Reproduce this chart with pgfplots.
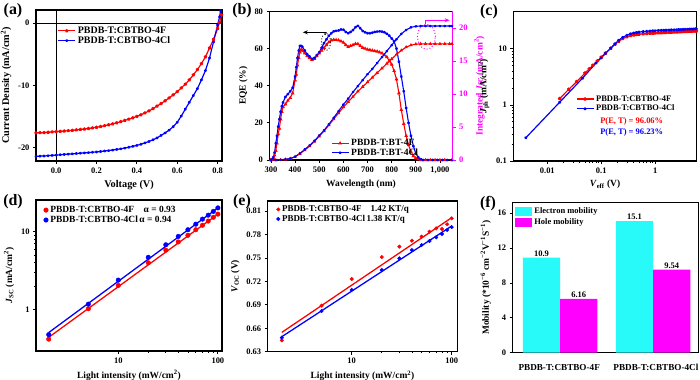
\documentclass[border=0pt]{standalone}
\usepackage{fontspec}
\setmainfont{Liberation Serif}
\usepackage{pgfplots}
\pgfplotsset{compat=1.18}
\usetikzlibrary{arrows.meta}
\definecolor{mred}{RGB}{255,0,0}
\definecolor{mblue}{RGB}{0,0,255}
\definecolor{mmag}{RGB}{255,0,255}
\definecolor{mcyan}{RGB}{40,250,250}
\newcommand{\tf}{\bfseries\fontsize{8.5}{9}\selectfont}
\newcommand{\lf}{\bfseries\fontsize{9.5}{10}\selectfont}
\newcommand{\pf}{\bfseries\fontsize{16}{16}\selectfont}
\pgfplotsset{
 myaxis/.style={scale only axis, anchor=south west,
   axis line style={line width=1.1pt},
   tick style={line width=0.8pt, black},
   tick align=outside, tick pos=left,
   major tick length=3bp, minor tick length=1.8bp,
   tick label style={font=\tf}, label style={font=\lf},
   legend style={draw=none, fill=none, font=\tf, inner sep=1pt, row sep=-1.5pt},
   legend cell align=left,
   /pgf/number format/assume math mode=true},
}
\begin{document}
\begin{tikzpicture}
\useasboundingbox (0,0) rectangle (700bp,380bp);
% ---------------- (a)
\begin{axis}[myaxis, at={(36bp,219bp)}, width=186bp, height=151bp,
  xmin=-0.1, xmax=0.822, ymin=-22.1, ymax=2.1,
  xtick={0,0.2,0.4,0.6,0.8}, xticklabels={0.0,0.2,0.4,0.6,0.8},
  ytick={-20,-10,0}, yticklabels={-20,-10,0},
  xlabel={Voltage (V)}, ylabel={Current Density (mA/cm\textsuperscript{2})},
  label style={font=\bfseries\fontsize{10.3}{11}\selectfont},
  legend style={at={(0.11,0.91)}, anchor=north west, font=\bfseries\fontsize{10}{11}\selectfont, row sep=-2.5pt}]
\draw[black, line width=1.1pt] (axis cs:0,-22.1) -- (axis cs:0,2.1);
\draw[black, line width=1.1pt] (axis cs:-0.1,0) -- (axis cs:0.822,0);
\addplot[mred, line width=1.2pt, mark=pentagon*, mark size=1.1] coordinates {
(-0.10,-17.6) (-0.08,-17.57) (-0.06,-17.55) (-0.04,-17.5) (-0.02,-17.45) (0.00,-17.4) (0.02,-17.35) (0.04,-17.3) (0.06,-17.25) (0.08,-17.2) (0.10,-17.12) (0.12,-17.05) (0.14,-16.98) (0.16,-16.9) (0.18,-16.8) (0.20,-16.7) (0.22,-16.58) (0.24,-16.45) (0.26,-16.3) (0.28,-16.15) (0.30,-15.98) (0.32,-15.8) (0.34,-15.6) (0.36,-15.4) (0.38,-15.18) (0.40,-14.95) (0.42,-14.7) (0.44,-14.4) (0.46,-14.08) (0.48,-13.7) (0.50,-13.3) (0.52,-12.9) (0.54,-12.45) (0.56,-12.0) (0.58,-11.5) (0.60,-11.0) (0.62,-10.4) (0.64,-9.8) (0.66,-9.1) (0.68,-8.3) (0.70,-7.45) (0.72,-6.5) (0.74,-5.4) (0.76,-4.0) (0.78,-2.6) (0.80,-0.9) (0.81,0.1) (0.82,1.3)};
\addlegendentry{PBDB-T:CBTBO-4F}
\addplot[mblue, line width=1.2pt, mark=star, mark size=1.3] coordinates {
(-0.10,-21.35) (-0.08,-21.32) (-0.06,-21.3) (-0.04,-21.25) (-0.02,-21.2) (0.00,-21.15) (0.02,-21.1) (0.04,-21.05) (0.06,-21.0) (0.08,-20.95) (0.10,-20.9) (0.12,-20.85) (0.14,-20.8) (0.16,-20.75) (0.18,-20.7) (0.20,-20.65) (0.22,-20.58) (0.24,-20.5) (0.26,-20.43) (0.28,-20.35) (0.30,-20.25) (0.32,-20.15) (0.34,-20.03) (0.36,-19.9) (0.38,-19.75) (0.40,-19.6) (0.42,-19.42) (0.44,-19.2) (0.46,-18.97) (0.48,-18.7) (0.50,-18.4) (0.52,-18.0) (0.54,-17.6) (0.56,-17.15) (0.58,-16.6) (0.60,-15.9) (0.62,-14.9) (0.64,-13.8) (0.66,-12.7) (0.68,-11.6) (0.70,-10.5) (0.72,-9.1) (0.74,-7.6) (0.76,-5.6) (0.78,-3.0) (0.80,-0.3) (0.81,1.0) (0.815,2.0)};
\addlegendentry{PBDB-T:CBTBO-4Cl}
\end{axis}
% ---------------- (b)
\begin{axis}[myaxis, at={(269.5bp,220bp)}, width=183bp, height=148.5bp,
  xmin=294, xmax=1052, ymin=0, ymax=80,
  xtick={300,400,...,1000}, ytick={0,20,40,60,80},
  xlabel={Wavelength (nm)}, ylabel={EQE (\%)},
  legend style={at={(0.33,0.16)}, anchor=north west, font=\bfseries\fontsize{9.6}{10}\selectfont, row sep=-2.5pt}]
\addplot[mred, line width=1.1pt, mark=triangle*, mark size=1.1] coordinates {
(300,0) (305,0.3) (310,1) (315,2.5) (320,5) (325,9) (330,14) (335,17) (340,22) (345,26) (350,28.5) (360,30) (370,32) (380,33.5) (390,36) (400,43) (405,46) (410,51) (415,55) (420,58) (425,59.5) (430,59) (440,57.5) (450,56) (460,55) (470,54) (480,54.5) (490,56) (500,57.5) (510,59) (520,60.5) (530,62) (540,63.5) (550,64.5) (560,64.8) (570,64.7) (580,64.5) (590,64) (600,63.3) (610,62) (620,61) (630,61.5) (640,62) (650,62.6) (660,62.5) (670,61.5) (680,60.5) (690,60) (700,59.5) (710,59.3) (720,59) (730,58.7) (740,58.5) (750,58) (760,57.5) (770,56.5) (780,55.5) (790,53.5) (800,51.5) (810,48) (820,43.5) (830,36) (840,27) (850,19.5) (860,13) (870,8) (880,4.5) (890,2.2) (900,1) (910,0.4) (920,0) (940,0) (960,0) (980,0) (1000,0) (1020,0) (1050,0)};
\addlegendentry{PBDB-T:BT-4F}
\addplot[mblue, line width=1.1pt, mark=star, mark size=1.3] coordinates {
(300,0) (305,0.5) (310,1.5) (315,4) (320,9) (325,13) (330,18) (335,22) (340,26) (345,29) (350,31) (360,34) (370,35.5) (380,37) (390,39) (400,45) (405,50) (410,55) (415,59) (420,61.5) (425,61.5) (430,61) (440,59) (450,57) (460,55.8) (470,54.5) (480,55) (490,56.5) (500,58) (510,60.5) (520,63) (530,65) (540,67) (550,68.3) (560,69.3) (570,69.6) (580,69.8) (590,70.3) (600,70.2) (610,69) (620,68.3) (630,69) (640,70) (650,71.5) (660,72.3) (670,71) (680,69.5) (690,68.8) (700,68.3) (710,68.3) (720,68.6) (730,69) (740,69.2) (750,69.3) (760,69.2) (770,68.8) (780,68) (790,67) (800,65.5) (810,64) (820,60) (830,53) (840,45) (850,37) (860,28) (870,20) (880,13) (890,7.5) (900,3.5) (910,1.5) (920,0.5) (930,0) (950,0) (970,0) (990,0) (1010,0) (1030,0) (1050,0)};
\addlegendentry{PBDB-T:BT-4Cl}
\draw[black, line width=0.9pt, -{Stealth[length=5bp,width=4bp]}] (axis cs:530,68.8) -- (axis cs:432,68.8);
\draw[black, line width=0.7pt] (axis cs:530,68.8) -- (axis cs:524,67.3);
\draw[black, dotted, line width=0.9pt] (axis cs:528,63.6) ellipse [x radius=4.5bp, y radius=8.5bp];
\draw[mmag, line width=0.9pt, -{Stealth[length=5bp,width=4bp]}] (axis cs:942,75.3) -- (axis cs:1040,75.3);
\draw[mmag, line width=0.9pt] (axis cs:942,75.3) -- (axis cs:942,73.4);
\draw[mmag, dotted, line width=1pt] (axis cs:944,66.4) ellipse [x radius=9bp, y radius=12.5bp];
\end{axis}
\begin{axis}[myaxis, at={(269.5bp,220bp)}, width=183bp, height=148.5bp,
  xmin=294, xmax=1052, ymin=0, ymax=22.5,
  axis x line=none, axis y line*=right, ytick pos=right,
  axis line style={mmag, line width=1.4pt},
  ytick={0,5,10,15,20}, ytick style={mmag, line width=0.8pt},
  yticklabel style={mmag, font=\tf},
  ylabel={Integrated \textit{Jsc} (mA/cm\textsuperscript{2})},
  ylabel style={mmag, font=\lf}]
\addplot[mred, line width=1.1pt, mark=triangle*, mark size=1.0] coordinates {
(300,0) (320,0) (340,0.02) (360,0.08) (380,0.2) (400,0.5) (420,0.95) (440,1.5) (460,2.1) (480,2.8) (500,3.6) (520,4.4) (540,5.3) (560,6.2) (580,7.1) (600,8.0) (620,8.8) (640,9.6) (660,10.4) (680,11.1) (700,11.8) (720,12.5) (740,13.2) (760,13.9) (780,14.6) (800,15.3) (820,16.0) (840,16.6) (860,17.1) (880,17.4) (900,17.55) (920,17.6) (940,17.6) (960,17.6) (980,17.6) (1000,17.6) (1020,17.6) (1040,17.6) (1050,17.6)};
\addplot[mblue, line width=1.1pt, mark=star, mark size=1.2] coordinates {
(300,0) (320,0) (340,0.03) (360,0.1) (380,0.22) (400,0.5) (420,1.0) (440,1.6) (460,2.2) (480,2.9) (500,3.7) (520,4.5) (540,5.4) (560,6.4) (580,7.4) (600,8.4) (620,9.3) (640,10.3) (660,11.2) (680,12.1) (700,13.0) (720,13.8) (740,14.7) (760,15.6) (780,16.5) (800,17.4) (820,18.3) (840,19.1) (860,19.7) (880,20.1) (900,20.25) (920,20.3) (940,20.3) (960,20.3) (980,20.3) (1000,20.3) (1020,20.3) (1040,20.3) (1050,20.3)};
\end{axis}
% ---------------- (c)
\begin{axis}[myaxis, at={(513.3bp,219bp)}, width=183.4bp, height=149.3bp,
  xmode=log, ymode=log, xmin=0.00234, xmax=5.9, ymin=0.1, ymax=46,
  xtick={0.01,0.1,1}, xticklabels={0.01,0.1,1},
  ytick={0.1,1,10}, yticklabels={0.1,1,10},
  xlabel={\textit{V}\textsubscript{eff} (V)}, ylabel={\textit{J}\textsubscript{ph} (mA/cm\textsuperscript{2})},
  legend style={at={(0.335,0.46)}, anchor=north west}]
\addplot[mred, line width=1.2pt, mark=pentagon*, mark size=1.2] coordinates {
(0.017,1.3) (0.025,1.9) (0.035,2.6) (0.05,3.7) (0.06,4.4) (0.07,5.1) (0.085,6.1) (0.1,7.1) (0.12,8.4) (0.15,10.2) (0.18,12.0) (0.21,13.6) (0.25,15.2) (0.3,16.4) (0.35,17.2) (0.4,17.7) (0.45,18.0) (0.5,18.2) (0.6,18.5) (0.7,18.7) (0.8,18.9) (0.9,19.0) (1.0,19.1) (1.15,19.3) (1.3,19.4) (1.45,19.5) (1.6,19.6) (1.8,19.7) (2,19.8) (2.25,19.9) (2.5,20.0) (2.75,20.1) (3,20.2) (3.3,20.3) (3.6,20.35) (4,20.45) (4.4,20.55) (4.8,20.65) (5.2,20.7) (5.6,20.8) (5.8,20.8)};
\addlegendentry{PBDB-T:CBTBO-4F}
\addplot[mblue, line width=1.2pt, mark=star, mark size=1.4] coordinates {
(0.004,0.26) (0.017,1.12) (0.045,3.0) (0.08,5.6) (0.1,6.9) (0.12,8.3) (0.15,10.3) (0.18,12.3) (0.21,14.2) (0.25,16.0) (0.3,17.5) (0.35,18.6) (0.4,19.2) (0.45,19.6) (0.5,19.9) (0.6,20.3) (0.7,20.6) (0.8,20.8) (0.9,21.0) (1.0,21.1) (1.15,21.3) (1.3,21.4) (1.45,21.5) (1.6,21.6) (1.8,21.7) (2,21.8) (2.25,21.9) (2.5,22.0) (2.75,22.1) (3,22.2) (3.3,22.3) (3.6,22.35) (4,22.45) (4.4,22.55) (4.8,22.65) (5.2,22.7) (5.6,22.8) (5.8,22.8)};
\addlegendentry{PBDB-T:CBTBO-4Cl}
\node[anchor=west, mred, font=\tf] at (rel axis cs:0.455,0.262) {P(E, T) = 96.06\%};
\node[anchor=west, mblue, font=\tf] at (rel axis cs:0.455,0.188) {P(E, T) = 96.23\%};
\end{axis}
% ---------------- (d)
\begin{axis}[myaxis, at={(36bp,29bp)}, width=186bp, height=151bp,
  xmode=log, ymode=log, xmin=1.49, xmax=110, ymin=0.296, ymax=25.5,
  xtick={10,100}, xticklabels={10,100}, ytick={1,10}, yticklabels={1,10},
  minor xtick={}, minor ytick={},
  xlabel={Light intensity (mW/cm\textsuperscript{2})}, ylabel={\textit{J}\textsubscript{SC} (mA/cm\textsuperscript{2})},
  legend style={at={(0.035,0.98)}, anchor=north west, font=\bfseries\fontsize{9.5}{10}\selectfont, row sep=-2pt}]
\addplot[only marks, mred, mark=*, mark size=2.3] coordinates {
(2,0.42) (5,1.03) (10,2.05) (20,4.0) (30,5.8) (40,7.4) (50,9.0) (60,10.6) (70,12.1) (80,13.7) (90,15.3) (100,16.8)};
\addlegendentry{PBDB-T:CBTBO-4F\quad α = 0.93}
\addplot[only marks, mblue, mark=*, mark size=2.3] coordinates {
(2,0.48) (5,1.18) (10,2.4) (20,4.7) (30,6.8) (40,8.7) (50,10.6) (60,12.5) (70,14.5) (80,16.3) (90,18.2) (100,20.2)};
\addlegendentry{PBDB-T:CBTBO-4Cl\,α = 0.94}
\addplot[mred, line width=1.3pt, forget plot] coordinates {(2,0.443) (100,16.8)};
\addplot[mblue, line width=1.3pt, forget plot] coordinates {(2,0.51) (100,20.2)};
\end{axis}
% ---------------- (e)
\begin{axis}[myaxis, at={(267.7bp,28.3bp)}, width=189.6bp, height=150.7bp,
  xmode=log, xmin=1.445, xmax=113.8, ymin=0.63, ymax=0.8228,
  xtick={10,100}, xticklabels={10,100}, minor xtick={},
  ytick={0.63,0.66,0.69,0.72,0.75,0.78,0.81}, yticklabels={0.63,0.66,0.69,0.72,0.75,0.78,0.81},
  xlabel={Light intensity (mW/cm\textsuperscript{2})}, ylabel={\textit{V}\textsubscript{OC} (V)},
  legend style={at={(0.04,0.99)}, anchor=north west, font=\bfseries\fontsize{9}{10}\selectfont, row sep=-2pt}]
\addplot[only marks, mred, mark=*, mark size=1.8] coordinates {
(2,0.6445) (5,0.6889) (10,0.723) (20,0.751) (30,0.7644) (40,0.772) (50,0.7772) (60,0.7836) (70,0.7878) (80,0.787) (90,0.793) (100,0.8006)};
\addlegendentry{PBDB-T:CBTBO-4F\quad 1.42 KT/q}
\addplot[only marks, mblue, mark=*, mark size=1.8] coordinates {
(2,0.6479) (5,0.682) (10,0.709) (20,0.7345) (30,0.7494) (40,0.760) (50,0.7665) (60,0.7716) (70,0.7763) (80,0.7806) (90,0.7857) (100,0.7895)};
\addlegendentry{PBDB-T:CBTBO-4Cl\,1.38 KT/q}
\addplot[mred, line width=1.3pt, forget plot] coordinates {(2,0.6547) (100,0.8015)};
\addplot[mblue, line width=1.3pt, forget plot] coordinates {(2,0.6492) (100,0.7908)};
\end{axis}
% ---------------- (f)
\begin{axis}[myaxis, at={(512.7bp,27.3bp)}, width=186bp, height=150bp,
  xmin=0, xmax=10, ymin=0, ymax=17.2,
  xtick={2.5,7.7}, xticklabels={PBDB-T:CBTBO-4F,PBDB-T:CBTBO-4Cl},
  xtick style={draw=none}, xticklabel style={font=\bfseries\fontsize{9.2}{10}\selectfont, yshift=-5bp},
  ytick={0,4,8,12,16}, yticklabels={0,4,8,12,16},
  ylabel={Mobility (*10\textsuperscript{−6} cm\textsuperscript{−2}V\textsuperscript{−1}S\textsuperscript{−1})},
  legend style={at={(0.008,0.99)}, anchor=north west, row sep=0pt},
  legend image code/.code={\fill[#1] (0cm,-0.16cm) rectangle (0.6cm,0.16cm);},
  point meta=explicit symbolic,
  nodes near coords, nodes near coords style={font=\tf, black, inner sep=1pt}]
\addplot[ybar, bar width=2, bar shift=0pt, fill=mcyan, draw=none] coordinates {(1.55,10.9) [10.9] (6.55,15.1) [15.1]};
\addlegendentry{Electron mobility}
\addplot[ybar, bar width=2, bar shift=0pt, fill=mmag, draw=none] coordinates {(3.55,6.16) [6.16] (8.55,9.54) [9.54]};
\addlegendentry{Hole mobility}
\end{axis}
% ---------------- panel labels
\node[font=\pf] at (13bp,369bp) {(a)};
\node[font=\pf] at (242bp,369bp) {(b)};
\node[font=\pf] at (489bp,368bp) {(c)};
\node[font=\pf] at (13bp,178bp) {(d)};
\node[font=\pf] at (242bp,178bp) {(e)};
\node[font=\pf] at (488bp,176bp) {(f)};
\end{tikzpicture}
\end{document}
